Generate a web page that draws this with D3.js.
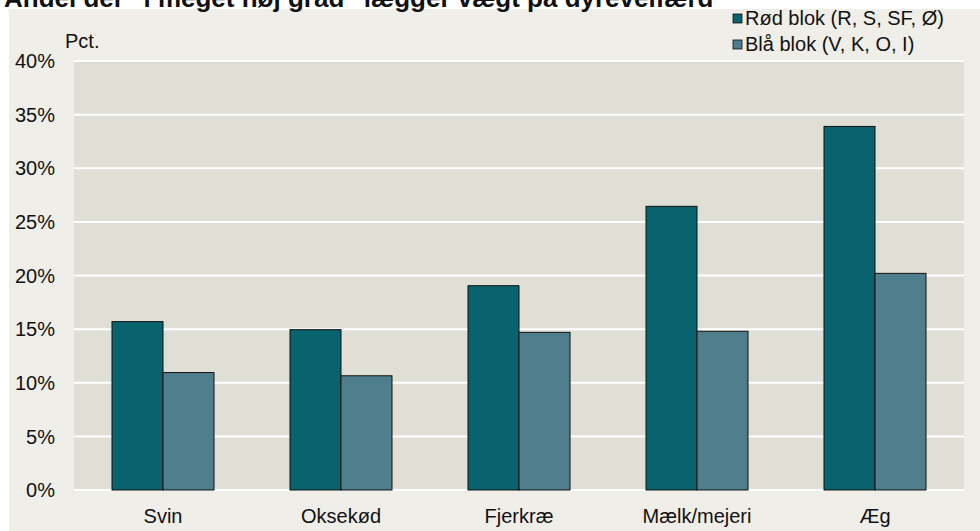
<!DOCTYPE html>
<html lang="da">
<head>
<meta charset="UTF-8">
<title>Dyrevelfærd</title>
<script src="https://d3js.org/d3.v7.min.js"></script>
<style>
  body { margin: 0; background: #fff; }
  svg text { font-family: "Liberation Sans", Arial, sans-serif; fill: #111; }
</style>
</head>
<body>
<svg width="980" height="531"></svg>
<script>
const categories = ["Svin", "Oksekød", "Fjerkræ", "Mælk/mejeri", "Æg"];
const seriesNames = ["Rød blok (R, S, SF, Ø)", "Blå blok (V, K, O, I)"];
const redBlock = [15.7, 14.95, 19.05, 26.45, 33.9];
const blueBlock = [10.95, 10.65, 14.7, 14.8, 20.2];
const yTicks = [0, 5, 10, 15, 20, 25, 30, 35, 40];
const colors = ["#08636f", "#4f7f8c"];

const svg = d3.select("svg");
const plot = { left: 74, right: 964, top: 61, bottom: 490 };

// outer background (page edge stays white on top/left)
svg.append("rect").attr("x", 9).attr("y", 9).attr("width", 971).attr("height", 522).attr("fill", "#efeee8");

// title, cut off at the top like the source
svg.append("text")
  .attr("x", 4).attr("y", 7)
  .attr("font-size", 26).attr("font-weight", "bold")
  .text("Andel der \"i meget høj grad\" lægger vægt på dyrevelfærd");

const x0 = d3.scaleBand().domain(categories).range([plot.left, plot.right])
  .paddingInner(0.427).paddingOuter(0.2135);
const x1 = d3.scaleBand().domain(seriesNames).range([0, x0.bandwidth()]);
const y = d3.scaleLinear().domain([0, 40]).range([plot.bottom, plot.top]);

svg.append("rect")
  .attr("x", plot.left).attr("y", plot.top)
  .attr("width", plot.right - plot.left).attr("height", plot.bottom - plot.top)
  .attr("fill", "#e0dfd5");

// gridlines
svg.append("g").selectAll("line").data(yTicks).join("line")
  .attr("x1", plot.left).attr("x2", plot.right)
  .attr("y1", d => y(d)).attr("y2", d => y(d))
  .attr("stroke", "#fff").attr("stroke-width", 2);

// y labels
svg.append("g").selectAll("text").data(yTicks).join("text")
  .attr("x", 55).attr("y", d => y(d))
  .attr("dy", "0.36em").attr("text-anchor", "end")
  .attr("font-size", 20)
  .text(d => d + "%");

svg.append("text").attr("x", 65).attr("y", 48).attr("font-size", 20).text("Pct.");

// bars
const rows = categories.map((c, i) => ({ cat: c, values: [redBlock[i], blueBlock[i]] }));
const groups = svg.append("g").selectAll("g").data(rows).join("g")
  .attr("transform", d => `translate(${x0(d.cat)},0)`);
groups.selectAll("rect").data(d => d.values.map((v, j) => ({ name: seriesNames[j], v, j }))).join("rect")
  .attr("x", d => x1(d.name)).attr("width", x1.bandwidth())
  .attr("y", d => y(d.v)).attr("height", d => y(0) - y(d.v))
  .attr("fill", d => colors[d.j])
  .attr("stroke", "#111").attr("stroke-width", 1);

// x labels
svg.append("g").selectAll("text").data(categories).join("text")
  .attr("x", d => x0(d) + x0.bandwidth() / 2).attr("y", 523)
  .attr("text-anchor", "middle").attr("font-size", 20)
  .text(d => d);

// legend
const legend = svg.append("g").selectAll("g").data(seriesNames).join("g")
  .attr("transform", (d, i) => `translate(733,${14 + i * 26})`);
legend.append("rect").attr("width", 9).attr("height", 9)
  .attr("fill", (d, i) => colors[i]).attr("stroke", "#111").attr("stroke-width", 0.8);
legend.append("text").attr("x", 12).attr("y", 10.5).attr("font-size", 20).text(d => d);
</script>
</body>
</html>
